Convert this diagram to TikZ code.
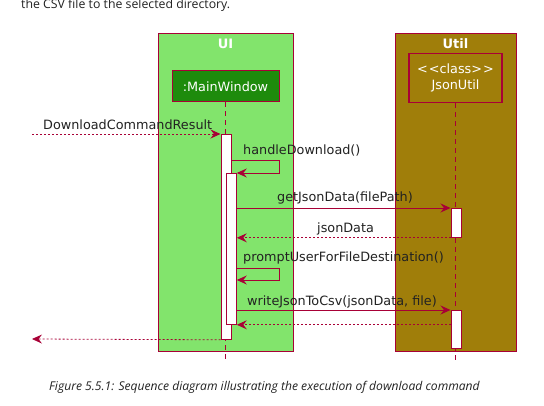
\documentclass[tikz,border=0pt]{standalone}
\usepackage{fontspec}
\setmainfont{DejaVu Sans}
\newfontfamily\capfont{Open Sans}
\usetikzlibrary{arrows.meta}
\definecolor{umlred}{HTML}{A80036}
\definecolor{uigreen}{HTML}{82E46C}
\definecolor{mwgreen}{HTML}{1E8B0C}
\definecolor{utilolive}{HTML}{A07E0A}
\definecolor{txt}{HTML}{222222}
\tikzset{
  frame/.style={draw=umlred, line width=0.8pt, anchor=north west, inner sep=0pt},
  title/.style={text=white, font=\fontsize{13}{15}\selectfont\bfseries},
  partbox/.style={draw=umlred, line width=1pt, text=white, font=\fontsize{12.8}{15}\selectfont, inner sep=0pt, align=center},
  lifeline/.style={draw=umlred, line width=0.8pt, dash pattern=on 5pt off 4pt},
  actbar/.style={draw=umlred, fill=white, line width=0.8pt, anchor=north west, inner sep=0pt, minimum width=10pt},
  msg/.style={draw=umlred, line width=0.8pt, -{Stealth[length=10pt,width=9pt,inset=3.5pt]}},
  ret/.style={msg, dash pattern=on 2pt off 2pt},
  lbl/.style={anchor=base west, inner sep=0pt, text=txt, font=\fontsize{12.8}{15}\selectfont},
}
\begin{document}
\begin{tikzpicture}[x=1pt,y=-1pt]
\useasboundingbox[fill=white] (0,0) rectangle (544,406);
% top text
\node[anchor=base west, inner sep=0pt, text=txt, font=\capfont\fontsize{12.3}{15}\selectfont] (toptext) at (21,9) {the CSV file to the selected directory.};
% frames
\node[frame, fill=uigreen, minimum width=135pt, minimum height=318pt] (ui) at (158,33) {};
\node[frame, fill=utilolive, minimum width=121pt, minimum height=318pt] (util) at (395,33) {};
\node[title] (uit) at (225.5,43.5) {UI};
\node[title] (utilt) at (455.5,43.5) {Util};
% participants
\node[partbox, fill=mwgreen, minimum width=107pt, minimum height=31pt] (mw) at (225.5,86.5) {:MainWindow};
\node[partbox, fill=utilolive, line width=1.5pt, minimum width=93pt, minimum height=49pt] (ju) at (455.5,78) {\mbox{<}\kern1pt\mbox{<}class\mbox{>}\kern1pt\mbox{>}\\[1.5pt]JsonUtil};
% lifelines
\coordinate (mwend) at (225.5,361);
\coordinate (juend) at (455.5,361);
\draw[lifeline] (mw.south) -- (mwend);
\draw[lifeline] (ju.south) -- (juend);
% activation bars
\node[actbar, minimum height=205pt] (a1) at (220.5,134) {};
\node[actbar, minimum height=151pt] (a2) at (226,173) {};
\node[actbar, minimum height=29pt] (b1) at (450.5,208) {};
\node[actbar, minimum height=38pt] (b2) at (450.5,310) {};
% messages
\coordinate (start1) at (32,134);
\draw[ret] (start1) -- (a1.north west);
\node[lbl] (l1) at (43,130) {DownloadCommandResult};
\draw[msg] ([yshift=-26pt]a1.north east) -- ++(48,0) |- (a2.north east);
\node[lbl] (l2) at (243,155) {handleDownload()};
\draw[msg] (b1.north west -| a2.east) -- (b1.north west);
\node[lbl] (l3) at (277,202) {getJsonData(filePath)};
\draw[ret] (b1.south west) -- (b1.south west -| a2.east);
\node[lbl] (l4) at (317,232.5) {jsonData};
\draw[msg] ([yshift=-95pt]a2.north east) -- ++(43,0) |- ([yshift=-107pt]a2.north east);
\node[lbl] (l5) at (243,262) {promptUserForFileDestination()};
\draw[msg] (b2.north west -| a2.east) -- (b2.north west);
\node[lbl] (l6) at (247,305.5) {writeJsonToCsv(jsonData, file)};
\draw[ret] (a2.south east -| b2.west) -- (a2.south east);
\coordinate (end8) at (32,339);
\draw[ret] (a1.south west) -- (end8);
% caption
\node[anchor=base west, inner sep=0pt, text=txt, font=\capfont\itshape\fontsize{12.1}{14}\selectfont] (cap) at (49,390) {Figure 5.5.1: Sequence diagram illustrating the execution of download command};
\end{tikzpicture}
\end{document}
